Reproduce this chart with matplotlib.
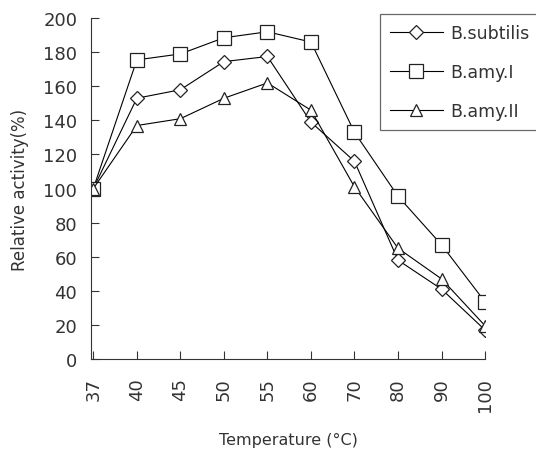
import numpy as np
import matplotlib
matplotlib.use("Agg")
import matplotlib.pyplot as plt

plt.rcParams['font.family'] = ['DejaVu Sans']

temps = ["37", "40", "45", "50", "55", "60", "70", "80", "90", "100"]
subtilis = [100, 153, 158, 174.5, 177.5, 139, 116, 58, 41, 17]
amy1 = [100, 175.5, 179, 188.5, 192, 186, 133, 95.5, 67, 33.5]
amy2 = [100, 137, 141, 153, 162, 146, 101, 65, 47, 19.5]

txt = "#333333"
fig = plt.figure(figsize=(5.36, 4.56), dpi=100)
ax = fig.add_axes([0.170, 0.2105, 0.735, 0.7475])

x = np.arange(len(temps))
mk = dict(color="black", lw=0.8, markerfacecolor="white", markeredgecolor="#222222", markeredgewidth=0.9)
ax.plot(x, subtilis, marker="D", markersize=7.5, label="B.subtilis", **mk)
ax.plot(x, amy1, marker="s", markersize=9.5, label="B.amy.I", **mk)
ax.plot(x, amy2, marker="^", markersize=9, label="B.amy.II", **mk)

ax.set_xlim(-0.05, 9.0)
ax.set_ylim(0, 200)
ax.set_yticks(range(0, 201, 20))
ax.set_xticks(x)
ax.set_xticklabels(temps, rotation=90)
for s in ["top", "right"]:
    ax.spines[s].set_visible(False)
for s in ["left", "bottom"]:
    ax.spines[s].set_color(txt)
ax.tick_params(axis="both", direction="in", length=6, colors=txt, labelsize=13)
ax.tick_params(axis="y", pad=10)
ax.tick_params(axis="x", pad=13)

ax.set_xlabel("Temperature (°C)", fontsize=11.5, color=txt, labelpad=15)
ax.set_ylabel("Relative activity(%)", fontsize=12, color=txt, labelpad=10)

leg = fig.legend(loc="upper left", bbox_to_anchor=(0.709, 0.968), fontsize=12.5,
                 handlelength=3.0, frameon=True, fancybox=False, borderpad=0.6,
                 labelspacing=1.2, handletextpad=0.45, borderaxespad=0)
leg.get_frame().set_edgecolor("#444444")
leg.get_frame().set_linewidth(0.9)
for t in leg.get_texts():
    t.set_color(txt)

fig.savefig("out.png", dpi=100)
